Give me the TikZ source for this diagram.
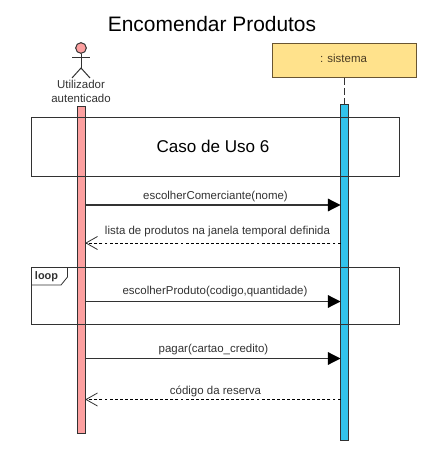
\documentclass[tikz,border=0pt]{standalone}
\usepackage{fontspec}
\setmainfont{Liberation Sans}
\usetikzlibrary{arrows.meta}
\definecolor{actorred}{RGB}{253,160,160}
\definecolor{barblue}{RGB}{50,195,235}
\definecolor{boxyellow}{RGB}{255,226,140}
\definecolor{boxedge}{RGB}{105,85,50}
\definecolor{inkgrey}{RGB}{50,50,50}
\tikzset{every picture/.style={line width=0.75pt}}
\tikzset{
  lbl/.style={inner sep=0.75pt,text=inkgrey,font=\fontsize{8.6}{9.9}\selectfont,align=center},
  actbar/.style={draw=inkgrey,line width=0.8pt},
  framebox/.style={draw=inkgrey,line width=0.8pt},
  callmsg/.style={draw=inkgrey,line width=0.9pt,-{Triangle[length=9.5pt,width=9.5pt,color=black]}},
  backmsg/.style={draw=black,line width=0.6pt,dash pattern=on 2.2pt off 1.6pt},
  backtip/.style={draw=inkgrey,line width=0.6pt},
}
\begin{document}
\begin{tikzpicture}[x=0.75pt,y=0.75pt,yscale=-1]
\useasboundingbox (0,0) rectangle (441,459);

% Title
\node (title) at (212,24) [inner sep=0pt,font=\fontsize{15.7}{18}\selectfont] {Encomendar Produtos};

% Activation bars
\node (barU) at (81.5,270) [actbar,fill=actorred,minimum width=6.4pt,minimum height=245pt,inner sep=0pt] {};
\node (barS) at (344.5,272.5) [actbar,fill=barblue,minimum width=6.2pt,minimum height=252.5pt,inner sep=0pt] {};

% Actor
\node (head) at (81,48) [circle,draw=inkgrey,fill=actorred,minimum size=8pt,inner sep=0pt] {};
\coordinate (hip) at (81,68);
\coordinate (armL) at (72,58);
\coordinate (armR) at (90,58);
\coordinate (legL) at (72,78);
\coordinate (legR) at (90,78);
\draw[draw=inkgrey] (head) -- (hip);
\draw[draw=inkgrey] (armL) -- (armR);
\draw[draw=inkgrey] (legL) -- (hip) -- (legR);
\node (actor) at (81,91.5) [lbl] {Utilizador\\autenticado};

% Sistema
\node (sistema) at (344.5,60.5) [draw=boxedge,line width=0.9pt,fill=boxyellow,minimum width=107.5pt,minimum height=25.2pt,inner sep=0pt] {};
\node (sistemaT) at (343.5,58) [lbl,text=boxedge!70!black] {: sistema};
\draw[draw=inkgrey,dash pattern=on 5pt off 2.5pt] (sistema.south) -- (barS.north);

% Frames
\node (caso) at (215.5,146.75) [framebox,minimum width=276pt,minimum height=44pt,inner sep=0pt] {};
\node (casoT) at (213,146) [inner sep=0pt,text=black,font=\fontsize{12.8}{14}\selectfont] {Caso de Uso 6};
\node (loopbox) at (215.5,296.25) [framebox,minimum width=276pt,minimum height=43pt,inner sep=0pt] {};
\draw[draw=inkgrey,line width=0.6pt] (31.5,285) -- (61,285) -- (67.5,277) -- (67.5,267.5);
\node (loopT) at (46.5,276.5) [inner sep=0pt,text=inkgrey,font=\fontsize{8.2}{9}\selectfont\bfseries] {loop};

% Messages
\coordinate (u1) at (86,205);
\coordinate (s1) at (340.5,205);
\coordinate (u2) at (86,243);
\coordinate (s2) at (340.5,243);
\coordinate (u3) at (86,301.5);
\coordinate (s3) at (340.5,301.5);
\coordinate (u4) at (86,358.5);
\coordinate (s4) at (340.5,358.5);
\coordinate (u5) at (86,399.5);
\coordinate (s5) at (340.5,399.5);
\draw[callmsg] (u1) -- (s1);
\draw[backmsg] (s2) -- (u2);
\draw[backtip] (97.5,236.5) -- (u2) -- (97.5,249.5);
\draw[callmsg] (u3) -- (s3);
\draw[callmsg] (u4) -- (s4);
\draw[backmsg] (s5) -- (u5);
\draw[backtip] (97.5,393) -- (u5) -- (97.5,406);

% Message labels
\node (m1) at (215.5,196.5) [lbl] {escolherComerciante(nome)};
\node (m2) at (217.5,231.5) [lbl] {lista de produtos na janela temporal definida};
\node (m3) at (215,291.5) [lbl] {escolherProduto(codigo,quantidade)};
\node (m4) at (213.5,349.5) [lbl] {pagar(cartao\_credito)};
\node (m5) at (215.5,391.5) [lbl] {código da reserva};

\end{tikzpicture}
\end{document}
